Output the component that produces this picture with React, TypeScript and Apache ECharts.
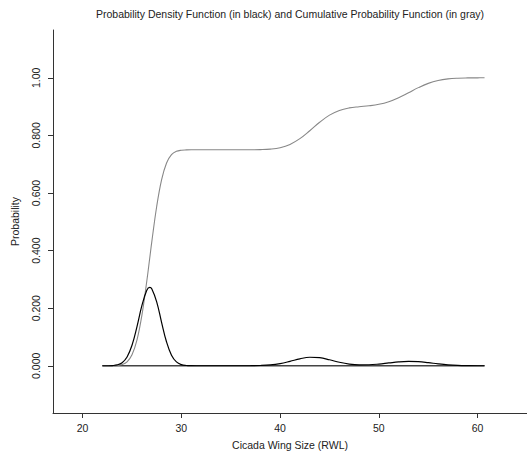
import React, { useEffect, useRef } from "react";
import * as echarts from "echarts";

const titleText =
  "Probability Density Function (in black) and Cumulative Probability Function (in gray)";
const xAxisTitle = "Cicada Wing Size (RWL)";
const yAxisTitle = "Probability";

const xTicks = [20, 30, 40, 50, 60];
const yTicks = [0, 0.2, 0.4, 0.6, 0.8, 1.0];
const yTickLabels = ["0.000", "0.200", "0.400", "0.600", "0.800", "1.00"];

const sizes = [
  22, 22.5, 23, 23.5, 24, 24.5, 25, 25.5, 26, 26.5, 26.8, 27, 27.5, 28, 28.5, 29, 29.5, 30,
  30.5, 31, 31.5, 32, 33, 34, 35, 36, 37, 38, 39, 40, 41, 42, 43, 44, 45, 46, 47, 48, 49, 50,
  51, 52, 53, 54, 55, 56, 57, 58, 59, 60, 60.7,
];

const pdfValues = [
  0.0, 0.0001, 0.0007, 0.003, 0.0107, 0.0306, 0.0713, 0.1353, 0.2088, 0.2621, 0.272, 0.2675,
  0.2221, 0.15, 0.0824, 0.0368, 0.0134, 0.004, 0.001, 0.0002, 0.0, 0.0, 0.0, 0.0, 0.0, 0.0,
  0.0002, 0.0009, 0.003, 0.0077, 0.0155, 0.0242, 0.0296, 0.0281, 0.0209, 0.0121, 0.0058,
  0.0031, 0.0035, 0.006, 0.0098, 0.0135, 0.0152, 0.0142, 0.0108, 0.0067, 0.0034, 0.0014,
  0.0005, 0.0001, 0.0001,
];

const cdfValues = [
  0.0, 0.0, 0.0002, 0.001, 0.0041, 0.0137, 0.0382, 0.089, 0.1752, 0.2944, 0.375, 0.4292,
  0.5532, 0.6467, 0.7042, 0.7329, 0.7447, 0.7486, 0.7497, 0.75, 0.75, 0.75, 0.75, 0.75, 0.75,
  0.75, 0.7501, 0.7506, 0.7524, 0.7574, 0.7688, 0.7887, 0.8161, 0.8455, 0.8704, 0.8868,
  0.8955, 0.8996, 0.9028, 0.9079, 0.917, 0.9309, 0.9482, 0.9659, 0.9806, 0.9906, 0.9962,
  0.9987, 0.9996, 0.9999, 1.0,
];

const baselineX = [22, 60.7];
const baselineY = [0, 0];

const FONT = "'Liberation Sans', Arial, Helvetica, sans-serif";
const TXT = "#222";

export default function App() {
  const ref = useRef<HTMLDivElement>(null);
  useEffect(() => {
    if (!ref.current) return;
    const chart = echarts.init(ref.current, undefined, { renderer: "svg" });
    chart.setOption({
      animation: false,
      backgroundColor: "#fff",
      graphic: [
        {
          type: "text",
          x: 290,
          y: 14,
          style: {
            text: titleText,
            fontFamily: FONT,
            fontSize: 10.5,
            fill: TXT,
            textAlign: "center",
            textVerticalAlign: "middle",
          },
        },
      ],
      grid: { left: 53, right: 0, top: 30, bottom: 43 },
      xAxis: {
        type: "value",
        min: 17,
        max: 65,
        name: xAxisTitle,
        nameLocation: "middle",
        nameGap: 26,
        nameTextStyle: { fontFamily: FONT, fontSize: 10.5, color: TXT },
        axisLine: { onZero: false, lineStyle: { color: "#333", width: 1 } },
        axisTick: { show: true, length: 5, customValues: xTicks, lineStyle: { color: "#333" } },
        axisLabel: {
          customValues: xTicks,
          fontFamily: FONT,
          fontSize: 10.5,
          color: TXT,
          margin: 9,
        },
        splitLine: { show: false },
      },
      yAxis: {
        type: "value",
        min: -0.164,
        max: 1.166,
        name: yAxisTitle,
        nameLocation: "middle",
        nameGap: 33,
        nameRotate: 90,
        nameTextStyle: { fontFamily: FONT, fontSize: 10.5, color: TXT },
        axisLine: { show: true, lineStyle: { color: "#333", width: 1 } },
        axisTick: { show: true, length: 5, customValues: yTicks, lineStyle: { color: "#333" } },
        axisLabel: {
          customValues: yTicks,
          rotate: 90,
          fontFamily: FONT,
          fontSize: 10.5,
          color: TXT,
          margin: 12,
          formatter: (v: number) => {
            const i = yTicks.findIndex((t) => Math.abs(t - v) < 1e-6);
            return i >= 0 ? yTickLabels[i] : "";
          },
        },
        splitLine: { show: false },
      },
      series: [
        {
          type: "line",
          data: baselineX.map((x, i) => [x, baselineY[i]]),
          showSymbol: false,
          lineStyle: { color: "#444", width: 1.3 },
          silent: true,
        },
        {
          type: "line",
          data: sizes.map((x, i) => [x, cdfValues[i]]),
          showSymbol: false,
          smooth: 0.4,
          lineStyle: { color: "#888", width: 1.1 },
          silent: true,
        },
        {
          type: "line",
          data: sizes.map((x, i) => [x, pdfValues[i]]),
          showSymbol: false,
          smooth: 0.4,
          lineStyle: { color: "#000", width: 1.2 },
          silent: true,
        },
      ],
    });
    return () => chart.dispose();
  }, []);
  return (
    <div
      ref={ref}
      style={{ position: "fixed", left: 0, top: 0, width: 527, height: 456 }}
    />
  );
}
